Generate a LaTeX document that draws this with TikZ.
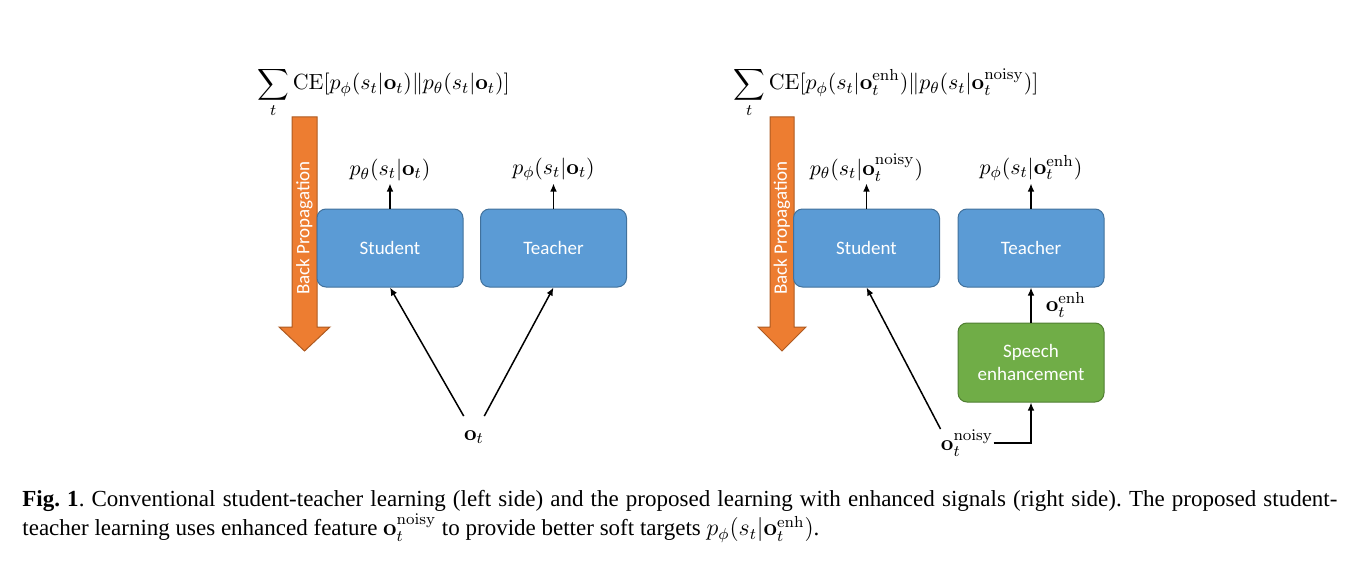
\documentclass[tikz,border=0pt]{standalone}
\usepackage{amsmath,amssymb}
\usepackage[no-math]{fontspec}
\newfontfamily\boxfont{Carlito}
\newfontfamily\capfont{Liberation Serif}
\usetikzlibrary{arrows.meta,positioning,calc}
\definecolor{netblue}{HTML}{5B9BD5}
\definecolor{netblueline}{HTML}{41719C}
\definecolor{segreen}{HTML}{70AD47}
\definecolor{segreenline}{HTML}{507E32}
\definecolor{bporange}{HTML}{ED7D31}
\definecolor{bporangeline}{HTML}{AE5A21}

\begin{document}
\begin{tikzpicture}[x=0.5pt,y=-0.5pt,
  net/.style={rectangle,rounded corners=4.5pt,minimum width=73pt,minimum height=39pt,
              fill=netblue,draw=netblueline,line width=0.5pt,
              font=\boxfont\fontsize{9.5}{11.5}\selectfont,text=white,align=center},
  enh/.style={net,fill=segreen,draw=segreenline,minimum height=39.5pt},
  prob/.style={inner sep=1pt,font=\fontsize{11}{13}\selectfont},
  flow/.style={-{Latex[length=4pt,width=3.4pt]},line width=0.75pt},
  bp/.style={fill=bporange,draw=bporangeline,line width=0.5pt},
  bptxt/.style={rotate=90,text=white,font=\boxfont\fontsize{9.5}{11.5}\selectfont,inner sep=0pt}
]
\useasboundingbox (0,0) rectangle (1370,567);

% ---- Left: conventional student-teacher ---------------------
\node[prob,anchor=base west] (lossL) at (255,90)
  {$\displaystyle\sum_t \mathrm{CE}[p_\phi(s_t|\mathbf{o}_t)\|p_\theta(s_t|\mathbf{o}_t)]$};
\path[bp] (292,117) -- (317,117) -- (317,327) -- (330,327) -- (304.5,351)
  -- (279,327) -- (292,327) -- cycle;
\node[bptxt] (bpL) at (304.5,228) {Back Propagation};

\node[net] (stuL) at (390,248) {Student};
\node[net] (teaL) at (553.5,248) {Teacher};
\node[prob,above=12.5pt of stuL] (pstuL) {$p_\theta(s_t|\mathbf{o}_t)$};
\node[prob,above=12.5pt of teaL] (pteaL) {$p_\phi(s_t|\mathbf{o}_t)$};
\draw[flow] (stuL) -- (pstuL);
\draw[flow] (teaL) -- (pteaL);

\node[prob,inner xsep=0pt,inner ysep=7pt] (ot) at (474,437) {$\mathbf{o}_t$};
\draw[flow] (ot.north west) -- (stuL.south);
\draw[flow] (ot.north east) -- (teaL.south);

% ---- Right: student-teacher with enhanced signals -----------
\node[prob,anchor=base west] (lossR) at (731,90)
  {$\displaystyle\sum_t \mathrm{CE}[p_\phi(s_t|\mathbf{o}_t^{\mathrm{enh}})\|p_\theta(s_t|\mathbf{o}_t^{\mathrm{noisy}})]$};
\path[bp] (770,117) -- (794,117) -- (794,327) -- (806,327) -- (782,351)
  -- (758,327) -- (770,327) -- cycle;
\node[bptxt] (bpR) at (782,228) {Back Propagation};

\node[net] (stuR) at (866.5,248) {Student};
\node[net] (teaR) at (1031,248) {Teacher};
\node[enh] (seR) at (1031,362.5) {Speech\\enhancement};
\node[prob,above=12.5pt of stuR] (pstuR) {$p_\theta(s_t|\mathbf{o}_t^{\mathrm{noisy}})$};
\node[prob,above=12.5pt of teaR] (pteaR) {$p_\phi(s_t|\mathbf{o}_t^{\mathrm{enh}})$};
\draw[flow] (stuR) -- (pstuR);
\draw[flow] (teaR) -- (pteaR);
\draw[flow] (seR) -- node[prob,right=6pt] (oenh) {$\mathbf{o}_t^{\mathrm{enh}}$} (teaR);

\node[prob,inner sep=0pt] (onoisy) at (967,443) {$\mathbf{o}_t^{\mathrm{noisy}}$};
\draw[flow] (onoisy.north west) -- (stuR.south);
\draw[flow] (onoisy.east) -| (seR.south);

% ---- Caption ------------------------------------------------
\node[anchor=north west,inner sep=0pt,text width=657.5pt,align=justify,
      font=\capfont\fontsize{11.5}{11.5}\selectfont]
      (cap) at (22,490)
  {\frenchspacing\baselineskip=11.5pt\lineskiplimit=-6pt\relax
   \textbf{Fig.~1}. Conventional student-teacher learning (left side) and the proposed
   learning with enhanced signals (right side). The proposed student-\linebreak
   teacher learning uses enhanced feature $\mathbf{o}_t^{\mathrm{noisy}}$ to provide
   better soft targets $p_\phi(s_t|\mathbf{o}_t^{\mathrm{enh}})$.};

\end{tikzpicture}
\end{document}
